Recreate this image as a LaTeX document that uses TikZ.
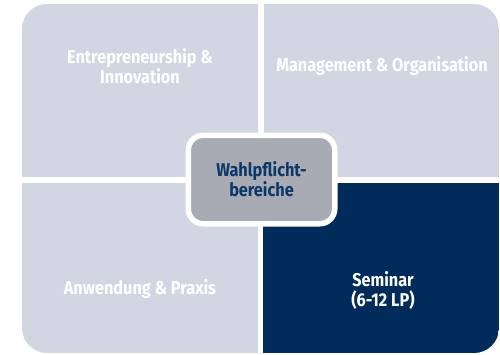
\documentclass[tikz,border=0pt]{standalone}
\usepackage{fontspec}
\setmainfont{Fira Sans}[FakeStretch=0.88]
\definecolor{BleuClair}{RGB}{210,214,226}
\definecolor{BleuNuit}{RGB}{0,43,91}
\definecolor{GrisMoyen}{RGB}{168,171,179}
\definecolor{BleuTexte}{RGB}{12,56,104}
\tikzset{etiquette/.style={text=white,align=center,font=\bfseries\fontsize{18.5}{20}\selectfont},
	centre/.style={draw=white,line width=5.5pt,fill=GrisMoyen,rounded corners=15pt,minimum width=146.5pt,minimum height=88.5pt,inner sep=0pt,text=BleuTexte,align=center,font=\bfseries\fontsize{18.5}{20}\selectfont}}
\begin{document}
\begin{tikzpicture}[x=1pt,y=-1pt,line join=round]
	\useasboundingbox (0,0) rectangle (500,354) ;
	\begin{scope}
		\clip[rounded corners=25pt] (22,4) rectangle (499,353) ;%cadre
		\fill[BleuClair] (22,4) rectangle (258,177) ;%haut gauche
		\fill[BleuClair] (264,4) rectangle (499,177) ;%haut droite
		\fill[BleuClair] (22,183) rectangle (258,353) ;%bas gauche
		\fill[BleuNuit] (263,183) rectangle (499,353) ;%bas droite
	\end{scope}
	\foreach \Coord/\Nom/\Texte in {(140,66)/entrepreneurship/{Entrepreneurship \&\\Innovation},(382,66)/management/{Management \& Organisation},(140,289)/anwendung/{Anwendung \& Praxis},(383,290)/seminar/{Seminar\\(6-12 LP)}}
		\node[etiquette] (\Nom) at \Coord {\Texte} ;
	\node[centre] (wahlpflicht) at (261.5,179.5) {Wahlpflicht-\\bereiche} ;
\end{tikzpicture}
\end{document}
